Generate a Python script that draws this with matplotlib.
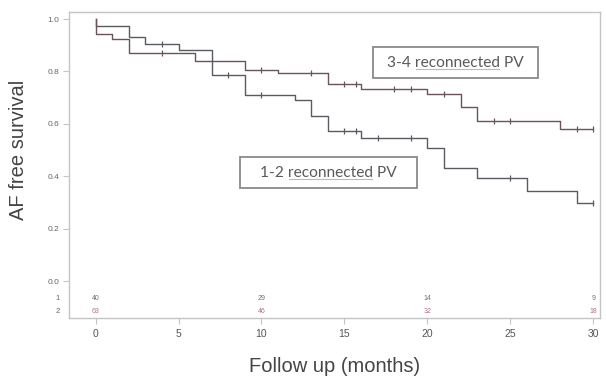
import numpy as np
import matplotlib
matplotlib.use("Agg")
import matplotlib.pyplot as plt
from matplotlib.patches import Rectangle

# Kaplan-Meier step data (time in months, AF-free survival)
months_12 = [0, 0, 2, 3, 5, 7, 9, 12, 13, 14, 16, 20, 21, 23, 26, 29]
surv_12 = [1.0, 0.974, 0.932, 0.905, 0.882, 0.786, 0.710, 0.691, 0.630,
           0.574, 0.545, 0.506, 0.430, 0.392, 0.345, 0.297]
censor_12 = [4, 8, 10, 15, 15.7, 17, 19, 25, 30]

months_34 = [0, 0, 1, 2, 6, 9, 11, 14, 16, 20, 22, 23, 28]
surv_34 = [1.0, 0.943, 0.924, 0.869, 0.840, 0.805, 0.793, 0.752, 0.732,
           0.713, 0.665, 0.611, 0.580]
censor_34 = [4, 10, 13, 15, 15.7, 18, 19, 21, 24, 25, 29, 30]

follow_end = 30

# Numbers at risk
risk_times = [0, 10, 20, 30]
risk_row1 = [40, 29, 14, 9]
risk_row2 = [63, 46, 32, 18]

x_ticks = [0, 5, 10, 15, 20, 25, 30]
y_ticks = [0.0, 0.2, 0.4, 0.6, 0.8, 1.0]

col_12 = "#5a5a62"
col_34 = "#6a5459"
frame_col = "#c4c4c4"


def surv_at(times, surv, t):
    idx = np.searchsorted(np.asarray(times), t, side="right") - 1
    return surv[idx]


fig = plt.figure(figsize=(6.06, 3.76), dpi=100)
ax = fig.add_axes([69 / 606, 1 - 318 / 376, (600 - 69) / 606, (318 - 12) / 376])

for times, surv, cens, col in [(months_12, surv_12, censor_12, col_12),
                               (months_34, surv_34, censor_34, col_34)]:
    ax.step(list(times) + [follow_end], list(surv) + [surv[-1]], where="post",
            color=col, lw=1.0)
    cy = [surv_at(times, surv, t) for t in cens]
    ax.plot(cens, cy, ls="none", marker="|", ms=4.5, mew=0.9, color=col)

ax.set_xlim(-1.6, 30.4)
ax.set_ylim(-0.141, 1.027)
ax.set_xticks(x_ticks)
ax.set_xticklabels([str(t) for t in x_ticks])
ax.set_yticks(y_ticks)
ax.set_yticklabels([f"{v:.1f}" for v in y_ticks])

for s in ax.spines.values():
    s.set_color(frame_col)
    s.set_linewidth(1.0)
ax.tick_params(axis="both", colors=frame_col, length=4, width=0.8)
ax.tick_params(axis="x", labelcolor="#555555", labelsize=7.5, pad=4)
ax.tick_params(axis="y", labelcolor="#666666", labelsize=6, pad=3)
for lab in ax.get_xticklabels() + ax.get_yticklabels():
    lab.set_family("Liberation Sans")

ax.set_xlabel("Follow up (months)", family="Liberation Sans", fontsize=14.5,
              color="#444444", va="center")
ax.xaxis.set_label_coords(0.5, -0.16)
ax.set_ylabel("AF free survival", family="Liberation Sans", fontsize=14.5,
              color="#444444", va="center")
ax.yaxis.set_label_coords(-0.096, 0.55)

# Numbers at risk rows
row_y = [-0.065, -0.115]
for y, vals, col in [(row_y[0], risk_row1, "#707070"), (row_y[1], risk_row2, "#b07482")]:
    for t, n in zip(risk_times, vals):
        ax.text(t, y, str(n), ha="center", va="center", fontsize=5,
                color=col, family="Liberation Sans")
for y, lbl in zip(row_y, ["1", "2"]):
    ax.text(-0.017, y, lbl, transform=ax.get_yaxis_transform(),
            ha="right", va="center", fontsize=5.5, color="#666666",
            family="Liberation Sans")

# Group labels in boxes
fig.canvas.draw()
renderer = fig.canvas.get_renderer()


def boxed_label(x0, x1, y0, y1, prefix, word, suffix):
    ax.add_patch(Rectangle((x0, y0), x1 - x0, y1 - y0, fill=False,
                           ec="#8a8a8a", lw=1.3, zorder=3))
    xc, yc = (x0 + x1) / 2, (y0 + y1) / 2
    full = prefix + word + suffix
    kw = dict(fontsize=11.2, family="Lato", color="#5a5a5a", va="center")
    t = ax.text(xc, yc, full, ha="center", **kw)
    bb = t.get_window_extent(renderer)
    tmp1 = ax.text(0, 0, prefix, **kw)
    tmp2 = ax.text(0, 0, prefix + word, **kw)
    w1 = tmp1.get_window_extent(renderer).width
    w2 = tmp2.get_window_extent(renderer).width
    tmp1.remove()
    tmp2.remove()
    inv = ax.transData.inverted()
    xa = inv.transform((bb.x0 + w1 + 1, bb.y0))[0]
    xb = inv.transform((bb.x0 + w2 - 1, bb.y0))[0]
    yb = inv.transform((bb.x0, bb.y0 + 1))[1]
    ax.plot([xa, xb], [yb, yb], color="#e0909c", lw=0.8, alpha=0.8, zorder=4)


boxed_label(16.7, 26.66, 0.775, 0.893, "3-4 ", "reconnected", " PV")
boxed_label(8.7, 19.37, 0.354, 0.474, "1-2 ", "reconnected", " PV")

fig.savefig("out.png", dpi=100, facecolor="white")
